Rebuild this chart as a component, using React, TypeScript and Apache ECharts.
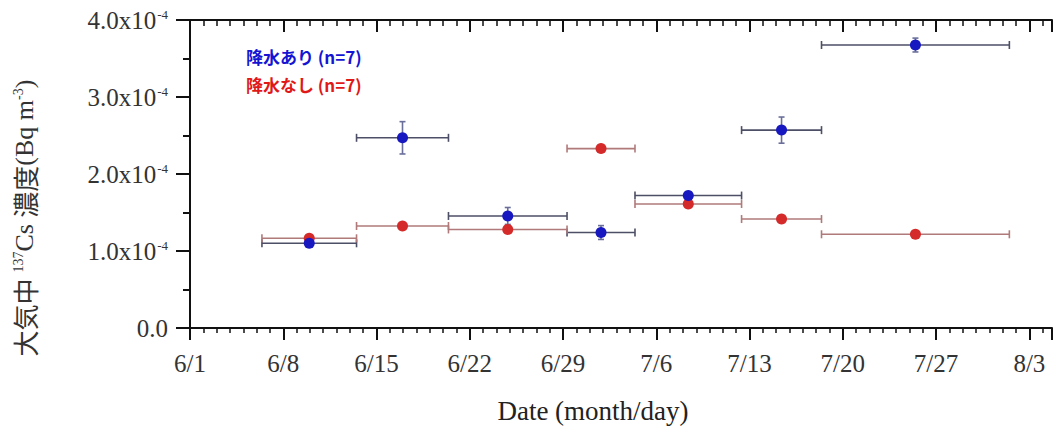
import React, { useEffect, useRef } from "react";
import * as echarts from "echarts";

// x values: days after June 1 (0 = 6/1)
const xTickLabels = ["6/1", "6/8", "6/15", "6/22", "6/29", "7/6", "7/13", "7/20", "7/27", "8/3"];
const yTickMantissa = ["0.0", "1.0", "2.0", "3.0", "4.0"];
const yExponent = "-4";

const periodStart = [5.4, 12.5, 19.4, 28.3, 33.4, 41.4, 47.4];
const periodEnd = [12.5, 19.4, 28.3, 33.4, 41.4, 47.4, 61.5];
const periodCenter = [8.95, 15.95, 23.85, 30.85, 37.4, 44.4, 54.45];

const rainValues = [1.1e-4, 2.47e-4, 1.455e-4, 1.24e-4, 1.72e-4, 2.57e-4, 3.675e-4];
const rainErrors = [0.03e-4, 0.21e-4, 0.11e-4, 0.09e-4, 0.05e-4, 0.17e-4, 0.09e-4];
const dryValues = [1.165e-4, 1.325e-4, 1.28e-4, 2.33e-4, 1.61e-4, 1.415e-4, 1.217e-4];
const dryErrors = [0.03e-4, 0.03e-4, 0.03e-4, 0.03e-4, 0.03e-4, 0.03e-4, 0.03e-4];

const rainName = "降水あり (n=7)";
const dryName = "降水なし (n=7)";

const SERIF = "'Liberation Serif', 'Times New Roman', serif";
const CJK = "'Noto Sans CJK JP', sans-serif";

function errorData(values: number[], errs: number[]) {
  return values.map((v, i) => [periodCenter[i], v, periodStart[i], periodEnd[i], v - errs[i], v + errs[i]]);
}

function makeErrorRender(hColor: string, vColor: string) {
  return (params: any, api: any) => {
    const xc = api.value(0);
    const y = api.value(1);
    const p1 = api.coord([api.value(2), y]);
    const p2 = api.coord([api.value(3), y]);
    const lo = api.coord([xc, api.value(4)]);
    const hi = api.coord([xc, api.value(5)]);
    const hs = { stroke: hColor, lineWidth: 1.6 };
    const vs = { stroke: vColor, lineWidth: 1.6 };
    return {
      type: "group",
      children: [
        { type: "line", shape: { x1: p1[0], y1: p1[1], x2: p2[0], y2: p2[1] }, style: hs },
        { type: "line", shape: { x1: p1[0], y1: p1[1] - 4, x2: p1[0], y2: p1[1] + 4 }, style: hs },
        { type: "line", shape: { x1: p2[0], y1: p2[1] - 4, x2: p2[0], y2: p2[1] + 4 }, style: hs },
        { type: "line", shape: { x1: lo[0], y1: lo[1], x2: hi[0], y2: hi[1] }, style: vs },
        { type: "line", shape: { x1: lo[0] - 3, y1: lo[1], x2: lo[0] + 3, y2: lo[1] }, style: vs },
        { type: "line", shape: { x1: hi[0] - 3, y1: hi[1], x2: hi[0] + 3, y2: hi[1] }, style: vs },
      ],
    };
  };
}

const X_MAX = 64.7;
const AXIS_COLOR = "#111";

export default function App() {
  const ref = useRef<HTMLDivElement>(null);
  useEffect(() => {
    if (!ref.current) return;
    const chart = echarts.init(ref.current, undefined, { renderer: "svg" });
    const baseX = {
      type: "value",
      min: 0,
      max: X_MAX,
      splitLine: { show: false },
    };
    const baseY = {
      type: "value",
      min: 0,
      max: 4e-4,
      interval: 1e-4,
      splitLine: { show: false },
    };
    const option: any = {
      animation: false,
      grid: { left: 190, top: 20, width: 862, height: 308, containLabel: false },
      xAxis: [
        {
          ...baseX,
          position: "bottom",
          interval: 7,
          axisLine: { show: true, lineStyle: { color: AXIS_COLOR, width: 2 } },
          axisTick: { show: true, length: 12, inside: false, lineStyle: { color: AXIS_COLOR, width: 2 } },
          axisLabel: {
            show: true,
            margin: 23,
            color: "#333",
            fontFamily: SERIF,
            fontSize: 25,
            formatter: (v: number) => {
              const i = Math.round(v / 7);
              return Math.abs(v - i * 7) < 1e-6 && xTickLabels[i] ? xTickLabels[i] : "";
            },
          },
        },
        {
          ...baseX,
          position: "bottom",
          interval: 1,
          axisLine: { show: false },
          axisTick: { show: true, length: 5, inside: false, lineStyle: { color: AXIS_COLOR, width: 1.5 } },
          axisLabel: { show: false },
        },
        {
          ...baseX,
          position: "top",
          interval: 7,
          axisLine: { show: true, lineStyle: { color: AXIS_COLOR, width: 2 } },
          axisTick: { show: true, length: 12, inside: true, lineStyle: { color: AXIS_COLOR, width: 2 } },
          axisLabel: { show: false },
        },
        {
          ...baseX,
          position: "top",
          interval: 1,
          axisLine: { show: false },
          axisTick: { show: true, length: 6, inside: true, lineStyle: { color: AXIS_COLOR, width: 1.5 } },
          axisLabel: { show: false },
        },
      ],
      yAxis: [
        {
          ...baseY,
          position: "left",
          axisLine: { show: true, lineStyle: { color: AXIS_COLOR, width: 2 } },
          axisTick: { show: true, length: 14, inside: false, lineStyle: { color: AXIS_COLOR, width: 2 } },
          minorTick: { show: true, splitNumber: 2, length: 7, lineStyle: { color: AXIS_COLOR, width: 2 } },
          axisLabel: {
            show: true,
            margin: 22,
            color: "#333",
            fontFamily: SERIF,
            fontSize: 25,
            formatter: (v: number) => {
              const i = Math.round(v / 1e-4);
              if (i === 0) return "{a|" + yTickMantissa[0] + "}";
              return "{a|" + yTickMantissa[i] + "x10}{s|" + yExponent + "}";
            },
            rich: {
              a: { fontFamily: SERIF, fontSize: 25, color: "#333" },
              s: { fontFamily: SERIF, fontSize: 13, color: "#333", verticalAlign: "top", padding: [0, 0, 10, 1] },
            },
          },
        },
        {
          ...baseY,
          position: "right",
          axisLine: { show: true, lineStyle: { color: AXIS_COLOR, width: 2 } },
          axisTick: { show: true, length: 12, inside: true, lineStyle: { color: AXIS_COLOR, width: 2 } },
          minorTick: { show: true, splitNumber: 2, length: 6, lineStyle: { color: AXIS_COLOR, width: 2 } },
          axisLabel: { show: false },
        },
      ],
      graphic: [
        {
          type: "text",
          x: 593,
          y: 411,
          style: {
            text: "Date (month/day)",
            fontFamily: SERIF,
            fontSize: 27,
            fill: "#222",
            align: "center",
            verticalAlign: "middle",
          },
        },
        {
          type: "text",
          x: 24,
          y: 218,
          rotation: Math.PI / 2,
          style: {
            text: "{c|大気中 }{s|137}{a|Cs }{c|濃度}{a|(Bq m}{s|-3}{a|)}",
            align: "center",
            verticalAlign: "middle",
            rich: {
              c: { fontFamily: CJK, fontSize: 26, fill: "#333", color: "#333" },
              a: { fontFamily: SERIF, fontSize: 26, fill: "#333", color: "#333" },
              s: { fontFamily: SERIF, fontSize: 14, fill: "#333", color: "#333", verticalAlign: "top" },
            },
          },
        },
        {
          type: "text",
          x: 246,
          y: 56,
          style: {
            text: rainName,
            fontFamily: CJK,
            fontSize: 17,
            fontWeight: "bold",
            fill: "#1414d2",
            align: "left",
            verticalAlign: "middle",
          },
        },
        {
          type: "text",
          x: 246,
          y: 84,
          style: {
            text: dryName,
            fontFamily: CJK,
            fontSize: 17,
            fontWeight: "bold",
            fill: "#e01818",
            align: "left",
            verticalAlign: "middle",
          },
        },
      ],
      series: [
        {
          type: "custom",
          name: "rain-err",
          renderItem: makeErrorRender("#4d4f66", "#6a6f9a"),
          data: errorData(rainValues, rainErrors),
          encode: { x: [0, 2, 3], y: [1, 4, 5] },
          z: 2,
          silent: true,
        },
        {
          type: "custom",
          name: "dry-err",
          renderItem: makeErrorRender("#b07a7a", "#b07a7a"),
          data: errorData(dryValues, dryErrors),
          encode: { x: [0, 2, 3], y: [1, 4, 5] },
          z: 2,
          silent: true,
        },
        {
          type: "scatter",
          name: dryName,
          symbol: "circle",
          symbolSize: 11,
          itemStyle: { color: "#d42a2a", opacity: 1 },
          data: dryValues.map((v, i) => [periodCenter[i], v]),
          z: 3,
        },
        {
          type: "scatter",
          name: rainName,
          symbol: "circle",
          symbolSize: 11,
          itemStyle: { color: "#1818c0", opacity: 1 },
          data: rainValues.map((v, i) => [periodCenter[i], v]),
          z: 4,
        },
      ],
    };
    chart.setOption(option);
    return () => chart.dispose();
  }, []);
  return (
    <div
      ref={ref}
      style={{ position: "fixed", left: 0, top: 0, width: 1056, height: 432, background: "#fff" }}
    />
  );
}
